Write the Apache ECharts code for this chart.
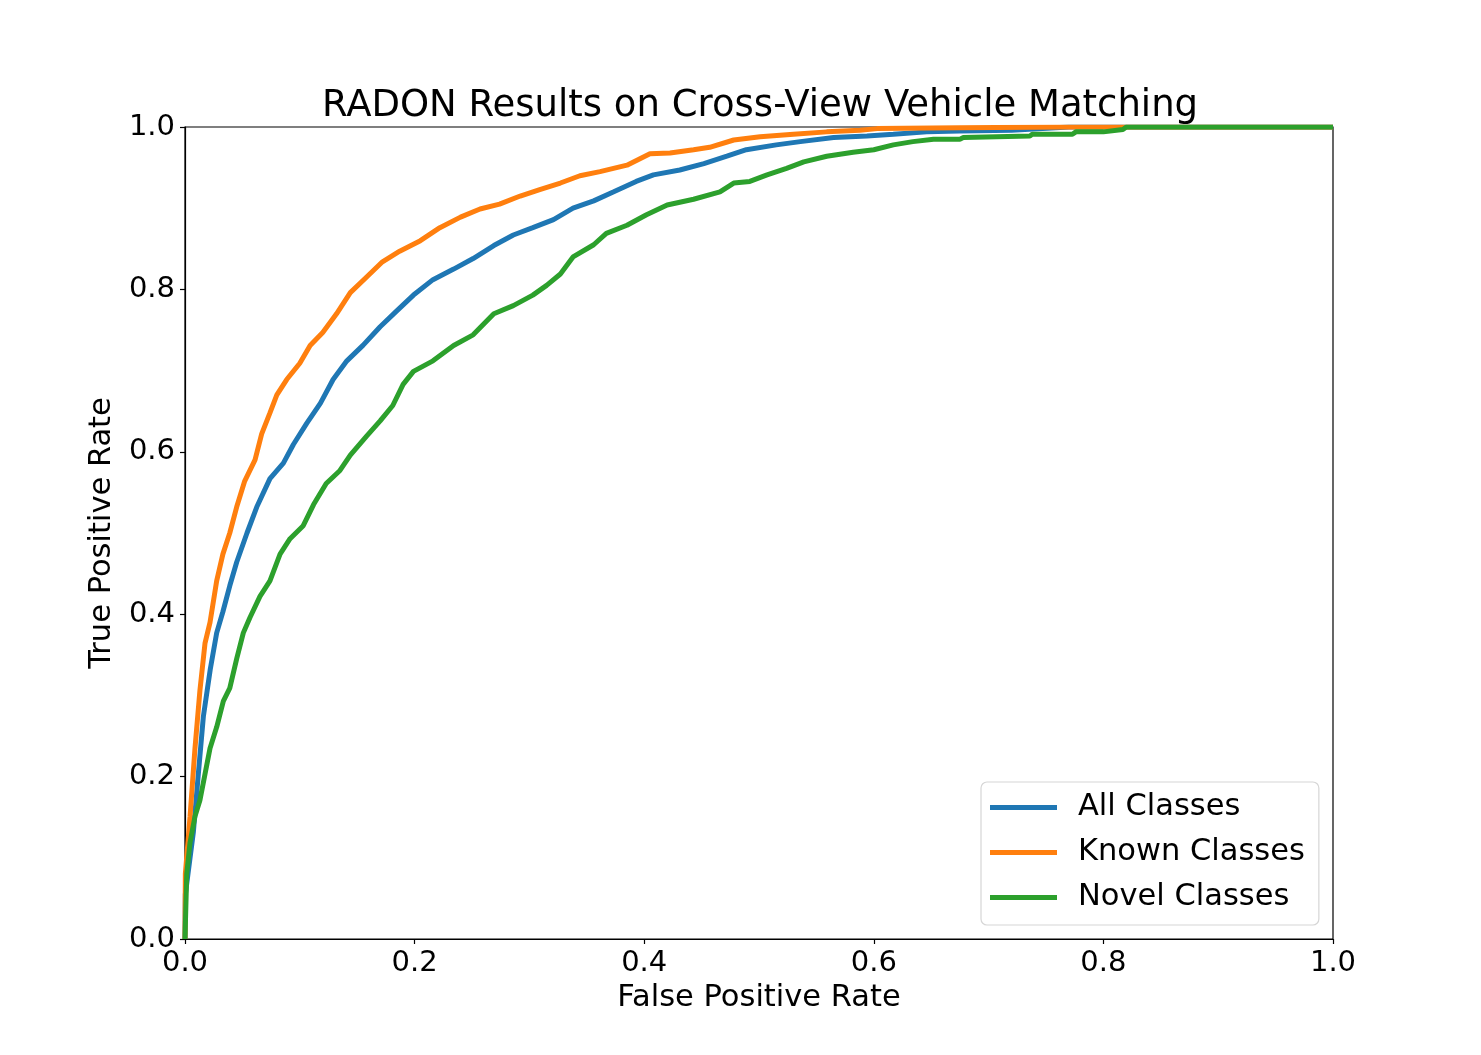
<!DOCTYPE html>
<html>
<head>
<meta charset="utf-8">
<title>RADON ROC</title>
<script src="https://cdn.jsdelivr.net/npm/echarts@6/dist/echarts.min.js"></script>
<style>
	html, body { margin: 0; padding: 0; background: #fff; }
	#main { width: 1481px; height: 1055px; }
</style>
</head>
<body>
<div id="main"></div>
<script>
// ROC points: [false positive rate, true positive rate]
var allClasses = [
	[0, 0], [0.0003, 0.055], [0.0073, 0.132], [0.0116, 0.203], [0.016, 0.274],
	[0.022, 0.332], [0.0276, 0.377], [0.033, 0.403], [0.039, 0.435], [0.045, 0.464],
	[0.054, 0.5], [0.0625, 0.532], [0.074, 0.567], [0.0857, 0.586], [0.0944, 0.609],
	[0.106, 0.635], [0.118, 0.66], [0.129, 0.689], [0.141, 0.712], [0.155, 0.731],
	[0.17, 0.754], [0.184, 0.773], [0.199, 0.793], [0.216, 0.812], [0.234, 0.825],
	[0.251, 0.838], [0.269, 0.854], [0.286, 0.867], [0.303, 0.876], [0.321, 0.886],
	[0.338, 0.9], [0.356, 0.909], [0.373, 0.92], [0.393, 0.933], [0.408, 0.941],
	[0.431, 0.947], [0.452, 0.955], [0.472, 0.964], [0.489, 0.972], [0.515, 0.978],
	[0.536, 0.982], [0.565, 0.987], [0.594, 0.989], [0.617, 0.991], [0.646, 0.994],
	[0.675, 0.995], [0.72, 0.996], [0.77, 1.0], [1, 1]
];
var knownClasses = [
	[0, 0], [0.0003, 0.08], [0.0044, 0.151], [0.0087, 0.235], [0.013, 0.306],
	[0.0174, 0.364], [0.0218, 0.39], [0.0276, 0.441], [0.033, 0.474], [0.039, 0.5],
	[0.045, 0.532], [0.052, 0.564], [0.061, 0.59], [0.0668, 0.622], [0.074, 0.648],
	[0.08, 0.67], [0.0886, 0.689], [0.1, 0.709], [0.109, 0.731], [0.12, 0.747],
	[0.132, 0.77], [0.144, 0.796], [0.158, 0.815], [0.172, 0.834], [0.187, 0.847],
	[0.205, 0.86], [0.222, 0.876], [0.24, 0.889], [0.257, 0.899], [0.274, 0.905],
	[0.292, 0.915], [0.309, 0.923], [0.327, 0.931], [0.344, 0.94], [0.3615, 0.945],
	[0.385, 0.953], [0.405, 0.967], [0.4225, 0.968], [0.443, 0.972], [0.457, 0.975],
	[0.478, 0.984], [0.501, 0.988], [0.53, 0.991], [0.559, 0.994], [0.588, 0.996],
	[0.603, 0.998], [0.675, 0.999], [0.77, 1.0], [1, 1]
];
var novelClasses = [
	[0, 0], [0.0015, 0.08], [0.0044, 0.119], [0.0087, 0.151], [0.013, 0.171],
	[0.0174, 0.203], [0.0218, 0.235], [0.0276, 0.261], [0.0334, 0.293], [0.039, 0.309],
	[0.045, 0.345], [0.0508, 0.377], [0.0566, 0.396], [0.0653, 0.422], [0.074, 0.441],
	[0.0828, 0.474], [0.0915, 0.493], [0.103, 0.509], [0.112, 0.535], [0.123, 0.561],
	[0.135, 0.577], [0.144, 0.596], [0.158, 0.619], [0.17, 0.638], [0.181, 0.657],
	[0.19, 0.683], [0.199, 0.699], [0.216, 0.712], [0.234, 0.731], [0.251, 0.744],
	[0.269, 0.77], [0.286, 0.78], [0.303, 0.793], [0.315, 0.805], [0.327, 0.819],
	[0.338, 0.84], [0.356, 0.855], [0.367, 0.869], [0.385, 0.879], [0.402, 0.892],
	[0.42, 0.904], [0.443, 0.911], [0.466, 0.92], [0.478, 0.931], [0.492, 0.933],
	[0.507, 0.941], [0.524, 0.949], [0.539, 0.957], [0.559, 0.964], [0.582, 0.969],
	[0.6, 0.972], [0.617, 0.978], [0.634, 0.982], [0.652, 0.985], [0.675, 0.985],
	[0.678, 0.987], [0.736, 0.989], [0.738, 0.991], [0.773, 0.991], [0.776, 0.994],
	[0.8, 0.994], [0.817, 0.997], [0.82, 1.0], [1, 1]
];
var seriesNames = ['All Classes', 'Known Classes', 'Novel Classes'];
var seriesData = [allClasses, knownClasses, novelClasses];
var colors = ['#1f77b4', '#ff7f0e', '#2ca02c'];

var font = 'DejaVu Sans';

var myChart = echarts.init(document.getElementById('main'));

var series = [];
for (var i = 0; i < seriesNames.length; i++) {
	series.push({
		name: seriesNames[i],
		type: 'line',
		data: seriesData[i],
		symbol: 'none',
		smooth: false,
		clip: true,
		animation: false,
		lineStyle: { width: 5, color: colors[i] },
		itemStyle: { color: colors[i] }
	});
}

function axisCommon(name, gap) {
	return {
		type: 'value',
		min: 0,
		max: 1,
		interval: 0.2,
		name: name,
		nameLocation: 'middle',
		nameGap: gap,
		nameTextStyle: { fontFamily: font, fontSize: 30.5, color: '#000' },
		axisLine: { show: true, lineStyle: { color: '#000', width: 1.2 } },
		axisTick: { show: true, length: 5, lineStyle: { color: '#000', width: 1.2 } },
		splitLine: { show: false },
		axisLabel: {
			fontFamily: font,
			fontSize: 29,
			color: '#000',
			margin: 10,
			formatter: function(v) { return v.toFixed(1); }
		}
	};
}

var option = {
	backgroundColor: '#fff',
	color: colors,
	animation: false,
	title: {
		text: 'RADON Results on Cross-View Vehicle Matching',
		left: 755,
		top: 83,
		textAlign: 'center',
		textStyle: { fontFamily: font, fontSize: 37, fontWeight: 'normal', color: '#000' }
	},
	grid: {
		left: 185,
		right: 148,
		top: 127,
		bottom: 116,
		show: true,
		borderColor: '#000',
		borderWidth: 1.2,
		backgroundColor: '#fff'
	},
	legend: {
		orient: 'vertical',
		left: 981,
		top: 782,
		icon: 'rect',
		itemWidth: 67,
		itemHeight: 5,
		itemGap: 14,
		padding: [10, 14, 12, 9],
		borderColor: '#d6d6d6',
		borderWidth: 1.2,
		borderRadius: 6,
		backgroundColor: 'rgba(255,255,255,0.8)',
		textStyle: {
			fontFamily: font,
			fontSize: 30.5,
			lineHeight: 30,
			color: '#000',
			padding: [0, 0, 0, 16]
		},
		data: seriesNames
	},
	xAxis: axisCommon('False Positive Rate', 38),
	yAxis: axisCommon('True Positive Rate', 63),
	series: series
};

myChart.setOption(option);
</script>
</body>
</html>
